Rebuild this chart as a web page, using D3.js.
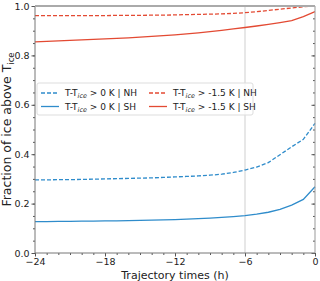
<!DOCTYPE html>
<html>
<head>
<meta charset="utf-8">
<script src="https://d3js.org/d3.v7.min.js"></script>
<style>
  body { margin: 0; background: #fff; }
  svg text { font-family: "DejaVu Sans", sans-serif; fill: #222; }
</style>
</head>
<body>
<div id="chart"></div>
<script>
// trajectory times (h), hourly from -24 to 0
var hours = d3.range(-24, 1);

var nh_0K = [0.296, 0.296, 0.297, 0.297, 0.298, 0.299, 0.300, 0.301, 0.302, 0.303, 0.304, 0.306, 0.308,
  0.310, 0.312, 0.315, 0.319, 0.326, 0.336, 0.348, 0.366, 0.398, 0.430, 0.460, 0.525];
var sh_0K = [0.127, 0.127, 0.128, 0.128, 0.129, 0.129, 0.130, 0.130, 0.131, 0.132, 0.133, 0.134, 0.135,
  0.137, 0.139, 0.141, 0.144, 0.147, 0.151, 0.157, 0.165, 0.177, 0.194, 0.217, 0.268];
var nh_15K = [0.961, 0.961, 0.961, 0.961, 0.961, 0.961, 0.961, 0.962, 0.962, 0.962, 0.963, 0.963, 0.964,
  0.965, 0.966, 0.967, 0.968, 0.970, 0.973, 0.977, 0.982, 0.987, 0.992, 0.997, 1.0];
var sh_15K = [0.855, 0.857, 0.859, 0.861, 0.863, 0.865, 0.867, 0.869, 0.871, 0.874, 0.877, 0.880, 0.883,
  0.887, 0.891, 0.896, 0.901, 0.907, 0.913, 0.919, 0.926, 0.933, 0.941, 0.957, 0.977];

var xTicks = [-24, -18, -12, -6, 0];
var yTicks = [0.0, 0.2, 0.4, 0.6, 0.8, 1.0];

var blue = "#2f8ccb", red = "#e34a33";

var series = [
  { name: "NH", thr: "0 K", values: nh_0K, color: blue, dash: "4,2" },
  { name: "SH", thr: "0 K", values: sh_0K, color: blue, dash: null },
  { name: "NH", thr: "-1.5 K", values: nh_15K, color: red, dash: "4,2" },
  { name: "SH", thr: "-1.5 K", values: sh_15K, color: red, dash: null }
];

var W = 320, H = 281;
var margin = { top: 6, right: 5, bottom: 28, left: 35 },
  width = W - margin.left - margin.right,
  height = H - margin.top - margin.bottom;

var svg = d3.select("#chart")
  .append("svg")
  .attr("width", W)
  .attr("height", H)
  .append("g")
  .attr("transform", "translate(" + margin.left + "," + margin.top + ")");

var x = d3.scaleLinear().domain([-24, 0]).range([0, width]);
var y = d3.scaleLinear().domain([0, 1]).range([height, 0]);

// grey reference line at -6 h
svg.append("line")
  .attr("x1", x(-6)).attr("x2", x(-6))
  .attr("y1", 0).attr("y2", height)
  .attr("stroke", "#cfcfcf")
  .attr("stroke-width", 1);

// lines
var line = d3.line()
  .x(function (d, i) { return x(hours[i]); })
  .y(function (d) { return y(d); });

series.forEach(function (s) {
  svg.append("path")
    .datum(s.values)
    .attr("d", line)
    .attr("fill", "none")
    .attr("stroke", s.color)
    .attr("stroke-width", 1.3)
    .attr("stroke-dasharray", s.dash);
});

// axes
function styleAxis(g) {
  g.select(".domain").remove();
  g.selectAll("line").attr("stroke", "#555");
  g.selectAll("text").style("font-size", "9.5px");
}

svg.append("g")
  .attr("transform", "translate(0," + height + ")")
  .call(d3.axisBottom(x).tickValues(xTicks).tickSize(3.5).tickPadding(1.5)
    .tickFormat(function (d) { return d < 0 ? "\u2212" + Math.abs(d) : d; }))
  .call(styleAxis);

svg.append("g")
  .attr("transform", "translate(0," + height + ")")
  .call(d3.axisBottom(x).tickValues(hours).tickSize(2).tickFormat(""))
  .call(styleAxis);

svg.append("g")
  .call(d3.axisLeft(y).tickValues(yTicks).tickSize(3.5).tickPadding(2).tickFormat(d3.format(".1f")))
  .call(styleAxis);

svg.append("g")
  .call(d3.axisLeft(y).tickValues(d3.range(0, 1.001, 0.05)).tickSize(2).tickFormat(""))
  .call(styleAxis);

svg.append("g")
  .attr("transform", "translate(" + width + ",0)")
  .call(d3.axisLeft(y).tickValues(yTicks).tickSize(3.5).tickFormat(""))
  .call(styleAxis);

svg.append("g")
  .attr("transform", "translate(" + width + ",0)")
  .call(d3.axisLeft(y).tickValues(d3.range(0, 1.001, 0.05)).tickSize(2).tickFormat(""))
  .call(styleAxis);

// spines
svg.append("line").attr("x1", 0).attr("x2", 0).attr("y1", 0).attr("y2", height).attr("stroke", "#777");
svg.append("line").attr("x1", 0).attr("x2", width).attr("y1", height).attr("y2", height).attr("stroke", "#777");
svg.append("line").attr("x1", width).attr("x2", width).attr("y1", 0).attr("y2", height).attr("stroke", "#999");
svg.append("line").attr("x1", 0).attr("x2", width).attr("y1", 0).attr("y2", 0).attr("stroke", "#aaa").attr("stroke-width", 2);

// legend
var legend = svg.append("g").attr("transform", "translate(2,77)");
legend.append("rect")
  .attr("width", 216).attr("height", 32)
  .attr("rx", 2)
  .attr("fill", "#fff")
  .attr("fill-opacity", 0.8)
  .attr("stroke", "#ddd");

series.forEach(function (s, i) {
  var col = Math.floor(i / 2), row = i % 2;
  var g = legend.append("g")
    .attr("transform", "translate(" + (4 + col * 108) + "," + (10 + row * 13.5) + ")");
  g.append("line")
    .attr("x1", 0).attr("x2", 18)
    .attr("stroke", s.color).attr("stroke-width", 1.3)
    .attr("stroke-dasharray", s.dash);
  var t = g.append("text")
    .attr("x", 24).attr("y", 3.2)
    .style("font-size", "9px");
  t.append("tspan").text("T-T");
  t.append("tspan").attr("dy", 2).style("font-size", "6.5px").style("font-style", "italic").text("ice");
  t.append("tspan").attr("dy", -2).text(" > " + s.thr + " | " + s.name);
});

// axis labels
svg.append("text")
  .attr("x", width / 2)
  .attr("y", height + 25.5)
  .attr("text-anchor", "middle")
  .style("font-size", "11px")
  .text("Trajectory times (h)");

var yl = svg.append("text")
  .attr("transform", "translate(-24," + (height / 2) + ")rotate(-90)")
  .attr("text-anchor", "middle")
  .style("font-size", "12.5px");
yl.append("tspan").text("Fraction of ice above T");
yl.append("tspan").attr("dy", 3).style("font-size", "8.5px").text("ice");
</script>
</body>
</html>
